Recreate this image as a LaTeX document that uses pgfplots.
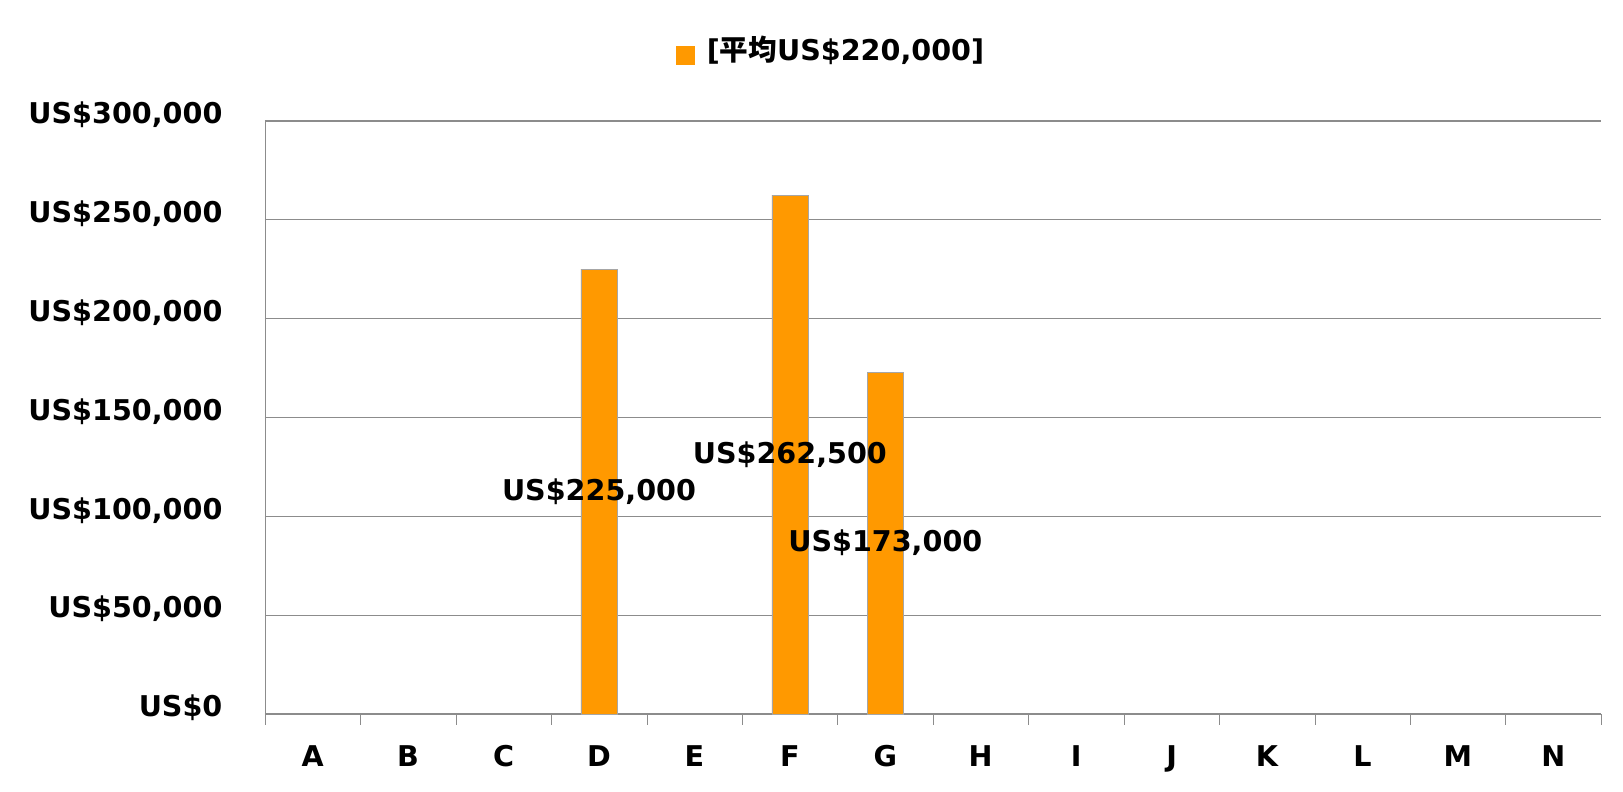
\documentclass[border=0pt]{standalone}
\usepackage{pgfplots}
\pgfplotsset{compat=1.18}
\usepackage{fontspec}
\setmainfont{DejaVu Sans}
\newfontfamily\cjk{Noto Sans CJK JP}
\definecolor{barOrange}{HTML}{FF9900}
\definecolor{gridGray}{HTML}{8C8C8C}

\begin{document}
\begin{tikzpicture}[font=\bfseries\fontsize{14.3}{17}\selectfont]
    \useasboundingbox (-132.5pt,-39pt) rectangle (679pt,357pt);
    \begin{axis}[
        at={(0,0)}, anchor=south west,
        scale only axis,
        width=668pt, height=296.5pt,
        axis x line*=bottom,
        axis y line*=left,
        axis line style={gridGray},
        xmin=-0.5, xmax=13.5,
        ymin=0, ymax=300000,
        xtick={0,...,13},
        xticklabels={A,B,C,D,E,F,G,H,I,J,K,L,M,N},
        minor xtick={-0.5,0.5,...,13.5},
        major x tick style={draw=none},
        minor x tick style={gridGray},
        minor tick length=5.5pt,
        tick align=outside,
        xticklabel style={yshift=-8pt},
        ytick={0,50000,...,300000},
        yticklabels={US\$0,{US\$50,000},{US\$100,000},{US\$150,000},{US\$200,000},{US\$250,000},{US\$300,000}},
        scaled y ticks=false,
        major y tick style={draw=none},
        yticklabel style={xshift=-13.5pt, yshift=3pt},
        ymajorgrids,
        grid style={gridGray, line width=0.6pt},
        ybar,
        bar width=18pt,
        clip=false,
        legend style={
            at={(0.303,1.12)}, anchor=west,
            draw=none, fill=none,
            font=\bfseries\fontsize{14.3}{17}\selectfont,
        },
        legend image code/.code={
            \fill[barOrange] (0pt,-7pt) rectangle (9pt,2pt);
            \path (13pt,0pt);
        },
    ]
        \addplot[fill=barOrange, draw=gray!70, line width=0.3pt] coordinates {
            (3,225000) (5,262500) (6,173000)
        };
        \addlegendentry{[{\cjk 平均}US\$220,000]}

        \node at (axis cs:3,112500) {US\$225,000};
        \node at (axis cs:5,131250) {US\$262,500};
        \node at (axis cs:6,86500) {US\$173,000};
    \end{axis}
\end{tikzpicture}
\end{document}
